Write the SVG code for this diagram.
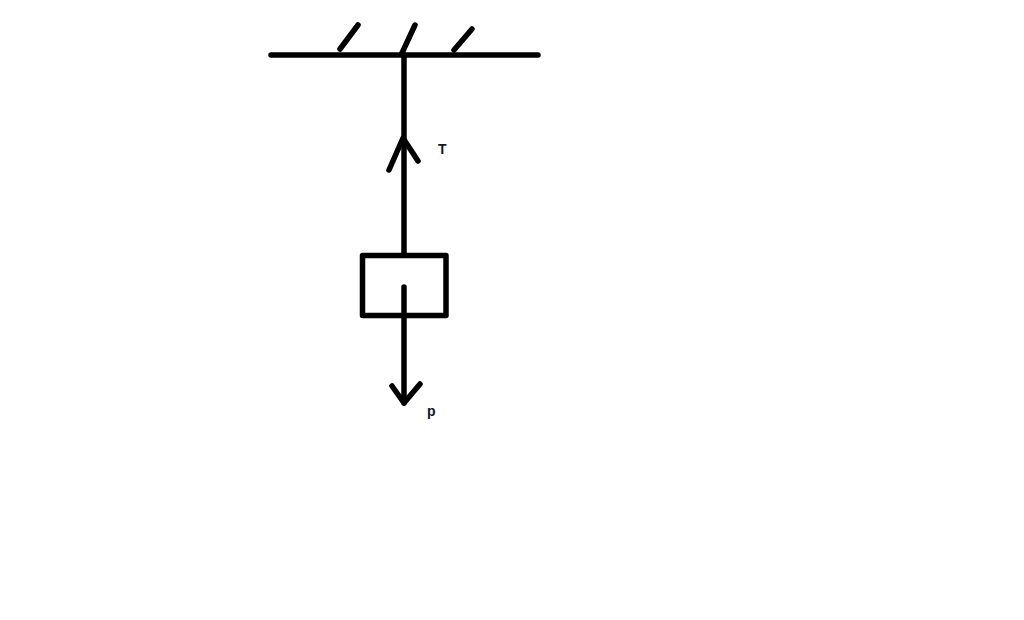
<svg xmlns="http://www.w3.org/2000/svg" width="1024" height="620" viewBox="0 0 1024 620">
<style>
.ln{stroke:#000;stroke-width:5.5;stroke-linecap:round;stroke-linejoin:round;fill:none}
.lbl{font-family:"Liberation Sans",Arial,sans-serif;font-weight:bold;font-size:14px;fill:#111827}
</style>
<rect width="1024" height="620" fill="#fff"/>
<g id="ceiling">
<line class="ln" x1="271" y1="55" x2="538" y2="55"/>
<line class="ln" x1="340" y1="49" x2="358" y2="25"/>
<line class="ln" x1="402" y1="53" x2="415" y2="25"/>
<line class="ln" x1="454" y1="50" x2="472" y2="29"/>
</g>
<g id="block">
<rect class="ln" x="362.5" y="255.5" width="83.5" height="60"/>
</g>
<g id="connectors">
<line class="ln" x1="404" y1="55" x2="404" y2="255"/>
<polyline class="ln" points="389,170 403,138 418,161"/>
<line class="ln" x1="404" y1="287" x2="404" y2="403"/>
<polyline class="ln" points="392,386 404,403 420,384"/>
</g>
<text class="lbl" x="438" y="154">T</text>
<text class="lbl" x="427" y="416">p</text>
</svg>
